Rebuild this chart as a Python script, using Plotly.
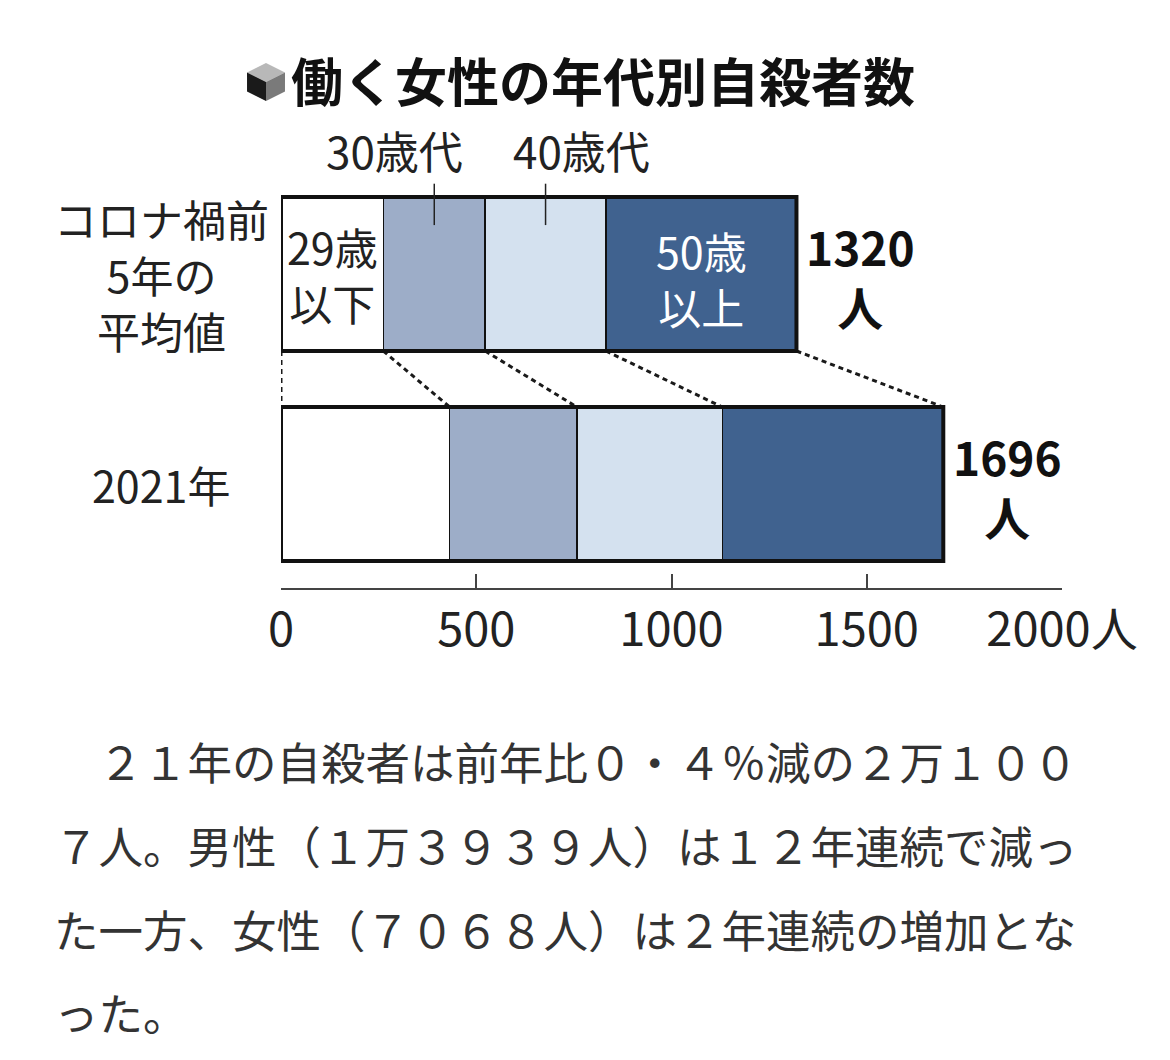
import plotly.graph_objects as go

# 働く女性の年代別自殺者数
groups = ["29歳以下", "30歳代", "40歳代", "50歳以上"]
rows = ["コロナ禍前<br>5年の<br>平均値", "2021年"]
before = [262, 261, 309, 488]   # コロナ禍前5年の平均値, total 1320
y2021 = [432, 326, 372, 566]    # 2021年, total 1696
totals = [1320, 1696]
tick_vals = [0, 500, 1000, 1500, 2000]
tick_text = ["0", "500", "1000", "1500", "2000人"]
colors = ["#ffffff", "#9dadc8", "#d4e1ef", "#40628f"]

body = [
    "　２１年の自殺者は前年比０・４％減の２万１００",
    "７人。男性（１万３９３９人）は１２年連続で減っ",
    "た一方、女性（７０６８人）は２年連続の増加とな",
    "った。",
]

W, H = 1170, 1060
OFF = 8                      # page offset of the plot div
L, R, T, B = 281 - OFF, 1062 - OFF, 169 - OFF, 588 - OFF   # plot area in pixels
FONT = "Noto Sans CJK JP"
bw = 0.733
ypos = [1, 0]


def px(x):
    return (x - OFF - L) / (R - L)


def py(y):
    return (B - (y - OFF)) / (B - T)


def cum(vals):
    out = [0]
    for v in vals:
        out.append(out[-1] + v)
    return out


fig = go.Figure()
for i, g in enumerate(groups):
    fig.add_trace(go.Bar(
        x=[before[i], y2021[i]], y=ypos, orientation="h", width=bw,
        name=g, marker=dict(color=colors[i], line=dict(color="#111", width=1.5)),
        showlegend=False, hoverinfo="skip",
    ))

shapes = []
# dotted connectors between the bars
ct, cb = cum(before), cum(y2021)
for a, b in zip(ct, cb):
    shapes.append(dict(type="line", xref="x", yref="y", x0=a, x1=b,
                       y0=1 - bw / 2, y1=bw / 2,
                       line=dict(color="#1a1a1a", width=3, dash="5px,4px")))
# thick outline round each bar
for yy, tot in zip(ypos, totals):
    shapes.append(dict(type="rect", xref="x", yref="y", x0=0, x1=tot,
                       y0=yy - bw / 2, y1=yy + bw / 2,
                       line=dict(color="#111", width=4)))
# leader lines for 30歳代 / 40歳代
for k in (1, 2):
    mid = ct[k] + before[k] / 2
    shapes.append(dict(type="line", xref="x", yref="y", x0=mid, x1=mid,
                       y0=1.43, y1=1.233, line=dict(color="#222", width=1.5)))

# title cube icon
cx, cy, s = 266, 82, 19
top = [(cx, cy - s), (cx - s, cy - s / 2), (cx, cy), (cx + s, cy - s / 2)]
left = [(cx - s, cy - s / 2), (cx, cy), (cx, cy + s), (cx - s, cy + s / 2)]
right = [(cx + s, cy - s / 2), (cx, cy), (cx, cy + s), (cx + s, cy + s / 2)]
for pts, col in ((top, "#b8b8b8"), (left, "#1a1a1a"), (right, "#7a7a7a")):
    path = "M " + " L ".join(f"{px(x):.4f},{py(y):.4f}" for x, y in pts) + " Z"
    shapes.append(dict(type="path", xref="paper", yref="paper", path=path,
                       fillcolor=col, line=dict(width=0)))

ann = []
ann.append(dict(text="<b>働く女性の年代別自殺者数</b>", xref="paper", yref="paper",
                x=px(289), y=py(80), xanchor="left", yanchor="middle",
                showarrow=False, font=dict(family=FONT, size=52, color="#111")))
for k, dx in ((1, -40), (2, 36)):
    ann.append(dict(text=groups[k], xref="x", yref="y", x=ct[k] + before[k] / 2,
                    y=1.448, xshift=dx, yanchor="bottom", yshift=-4, showarrow=False,
                    font=dict(family=FONT, size=44, color="#222")))
ann.append(dict(text="29歳<br>以下", xref="x", yref="y", x=before[0] / 2, y=1,
                showarrow=False, font=dict(family=FONT, size=43, color="#222")))
ann.append(dict(text="50歳<br>以上", xref="x", yref="y", x=ct[3] + before[3] / 2,
                y=0.98, showarrow=False, font=dict(family=FONT, size=43, color="#ffffff")))
for yy, tot in zip(ypos, totals):
    ann.append(dict(text=f"<b>{tot}</b><br><b>人</b>", xref="x", yref="y", x=tot,
                    y=yy - 0.01, xanchor="left", xshift=8, align="center",
                    showarrow=False, font=dict(family=FONT, size=46, color="#111")))
for yy, lab in zip(ypos, rows):
    ann.append(dict(text=lab, xref="paper", yref="y", x=px(161), y=yy,
                    xanchor="center", showarrow=False, align="center",
                    font=dict(family=FONT, size=43, color="#222")))
for i, line in enumerate(body):
    ann.append(dict(text=line, xref="paper", yref="paper", x=px(52),
                    y=py(760 + i * 84), xanchor="left", yanchor="middle",
                    showarrow=False, font=dict(family=FONT, size=44.5, color="#333")))

fig.update_layout(
    barmode="stack", width=W, height=H, autosize=False,
    margin=dict(l=L, r=W - R, t=T, b=H - B, pad=0),
    paper_bgcolor="white", plot_bgcolor="white",
    shapes=shapes, annotations=ann,
    xaxis=dict(range=[0, 2000], tickvals=tick_vals, ticktext=tick_text,
               ticks="inside", ticklen=14, tickwidth=1.5, tickcolor="#444",
               showline=True, linecolor="#444", linewidth=1.5,
               showgrid=False, zeroline=False, fixedrange=True,
               tickfont=dict(family=FONT, size=47, color="#222")),
    yaxis=dict(range=[-0.495, 1.5], visible=False, fixedrange=True),
    font=dict(family=FONT),
)

fig.write_html("out.html")
